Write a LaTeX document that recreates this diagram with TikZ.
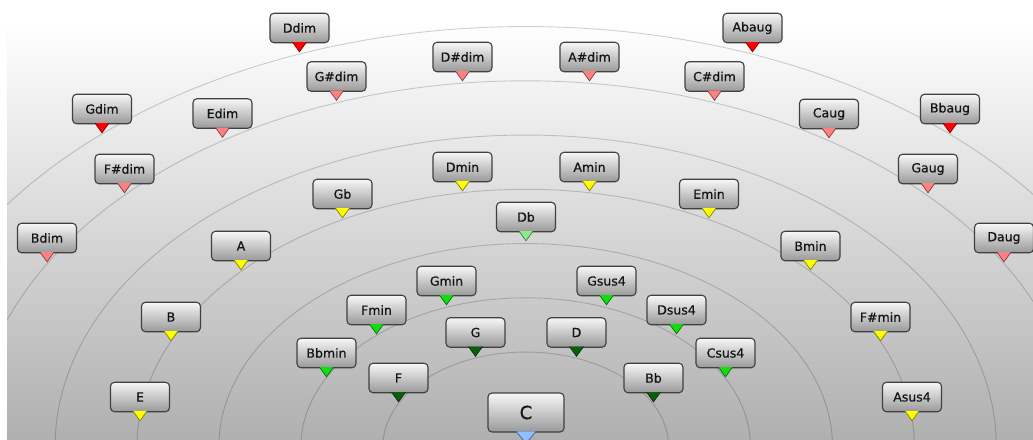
\documentclass[tikz,border=0pt]{standalone}
\usepackage{fontspec}
\setmainfont[FakeBold=0.6]{DejaVu Sans}
\definecolor{dimred}{HTML}{FF0000}
\definecolor{dimpink}{HTML}{FF8080}
\definecolor{ylw}{HTML}{FFFF00}
\definecolor{grn}{HTML}{11DD11}
\definecolor{ltgrn}{HTML}{88EE88}
\definecolor{dkgrn}{HTML}{0B5E0B}
\definecolor{ltblue}{HTML}{90BEFF}
\newcommand\chd[6][]{%
  \node[chord,#1] (#2) at (#3,#4) {#5};
  \filldraw[fill=#6, draw=#6!50!black, line width=0.7pt]
    ([xshift=-7pt,yshift=1.2pt]#2.south) -- ([yshift=-8.5pt]#2.south) -- ([xshift=7pt,yshift=1.2pt]#2.south);
}
\begin{document}
\begin{tikzpicture}[x=1pt,y=-1pt,
  chord/.style={rectangle, rounded corners=4pt, draw=black!75, line width=1.1pt,
    top color=white!97!black, bottom color=black!40, minimum width=59pt,
    minimum height=29.5pt, inner sep=0pt, text=black!92,
    font=\fontsize{12.5}{14}\selectfont},
  bigchord/.style={minimum width=76pt, minimum height=39pt, font=\fontsize{18}{20}\selectfont},
  ring/.style={draw=black, draw opacity=0.18, line width=0.9pt}]
\useasboundingbox (0,0) rectangle (1033,439);
\fill[white] (0,0) rectangle (1033,439);
\shade[top color=white, bottom color=black!31] (7,20) rectangle (1033,439);
\begin{scope}
  \clip (7,0) rectangle (1033,439);
  \foreach \a/\b in {142.9/94.65, 224.8/148.9, 306.8/203.15, 388.7/257.4,
                     470.6/311.65, 552.5/365.9, 634.4/420.15}
    \draw[ring] (525.7,446.7) ellipse [x radius=\a pt, y radius=\b pt];
\end{scope}
% outer ring
\chd{Ddim}{299.5}{28}{Ddim}{dimred}
\chd{Abaug}{752.5}{28}{Abaug}{dimred}
\chd{Gdim}{102}{109}{Gdim}{dimred}
\chd{Bbaug}{950}{109}{Bbaug}{dimred}
\chd{Bdim}{47}{238}{Bdim}{dimpink}
\chd{Daug}{1004}{238}{Daug}{dimpink}
% pink ring
\chd{Gsdim}{336.5}{76.5}{G\#dim}{dimpink}
\chd{Dsdim}{462.5}{57}{D\#dim}{dimpink}
\chd{Asdim}{589.5}{57}{A\#dim}{dimpink}
\chd{Csdim}{714.5}{76.5}{C\#dim}{dimpink}
\chd{Edim}{222.5}{113.5}{Edim}{dimpink}
\chd{Caug}{829}{114}{Caug}{dimpink}
\chd{Fsdim}{124.5}{169}{F\#dim}{dimpink}
\chd{Gaug}{928}{169}{Gaug}{dimpink}
% yellow ring
\chd{Dmin}{462.5}{167}{Dmin}{ylw}
\chd{Amin}{589.5}{167}{Amin}{ylw}
\chd{Gb}{342.5}{194}{Gb}{ylw}
\chd{Emin}{709}{194}{Emin}{ylw}
\chd{A}{241}{246}{A}{ylw}
\chd{Bmin}{810.5}{246}{Bmin}{ylw}
\chd{B}{171}{317}{B}{ylw}
\chd{Fsmin}{880.5}{317}{F\#min}{ylw}
\chd{E}{140}{397}{E}{ylw}
\chd{Asus}{912}{397}{Asus4}{ylw}
% Db
\chd{Db}{526}{217}{Db}{ltgrn}
% green ring
\chd{Gmin}{446.5}{281}{Gmin}{grn}
\chd{Gsus}{606.5}{281}{Gsus4}{grn}
\chd{Fmin}{376.5}{310}{Fmin}{grn}
\chd{Dsus}{676.5}{310}{Dsus4}{grn}
\chd{Bbmin}{326.5}{353}{Bbmin}{grn}
\chd{Csus}{725.5}{353}{Csus4}{grn}
% dark green ring
\chd{G}{475.5}{332.5}{G}{dkgrn}
\chd{D}{576.5}{332.5}{D}{dkgrn}
\chd{F}{398.5}{378}{F}{dkgrn}
\chd{Bb}{653.5}{378}{Bb}{dkgrn}
% centre
\node[chord,bigchord] (C) at (526,412.5) {C};
\filldraw[fill=ltblue, draw=ltblue!50!black, line width=0.7pt]
  ([xshift=-10pt,yshift=1.2pt]C.south) -- ([yshift=-11pt]C.south) -- ([xshift=10pt,yshift=1.2pt]C.south);
\end{tikzpicture}
\end{document}
